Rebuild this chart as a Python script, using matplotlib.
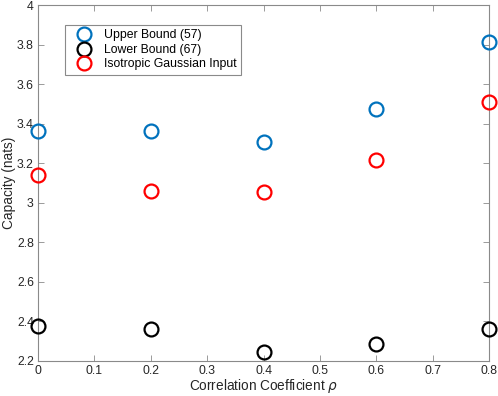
import matplotlib
matplotlib.use("Agg")
import matplotlib.pyplot as plt

plt.rcParams['font.family'] = ['Liberation Sans', 'DejaVu Sans']

rho = [0, 0.2, 0.4, 0.6, 0.8]
upper = [3.362, 3.362, 3.31, 3.477, 3.812]
lower = [2.376, 2.360, 2.248, 2.288, 2.360]
iso = [3.140, 3.060, 3.056, 3.216, 3.510]

fig = plt.figure(figsize=(4.98, 3.96), dpi=100)
ax = fig.add_axes([0.0763, 0.0884, 0.9057, 0.8986])

ms = 10
mew = 1.6
ax.plot(rho, upper, 'o', mfc='none', mec='#0072BD', ms=ms, mew=mew, label='Upper Bound (57)', clip_on=False, zorder=3)
ax.plot(rho, lower, 'o', mfc='none', mec='black', ms=ms, mew=mew, label='Lower Bound (67)', clip_on=False, zorder=3)
ax.plot(rho, iso, 'o', mfc='none', mec='#FF0000', ms=ms, mew=mew, label='Isotropic Gaussian Input', clip_on=False, zorder=3)

ax.set_xlim(0, 0.8)
ax.set_ylim(2.2, 4)
ax.set_xticks([0, 0.1, 0.2, 0.3, 0.4, 0.5, 0.6, 0.7, 0.8])
ax.set_xticklabels(['0', '0.1', '0.2', '0.3', '0.4', '0.5', '0.6', '0.7', '0.8'])
ax.set_yticks([2.2, 2.4, 2.6, 2.8, 3, 3.2, 3.4, 3.6, 3.8, 4])
ax.set_yticklabels(['2.2', '2.4', '2.6', '2.8', '3', '3.2', '3.4', '3.6', '3.8', '4'])

gray = '#262626'
for s in ax.spines.values():
    s.set_color('#8a8a8a')
    s.set_linewidth(0.8)
ax.tick_params(direction='in', top=True, right=True, length=4, width=0.6,
               color='#8a8a8a', labelcolor=gray, labelsize=8.8, pad=3)

ax.set_xlabel(r'Correlation Coefficient $\rho$', color=gray, fontsize=9.8, labelpad=0)
ax.set_ylabel('Capacity (nats)', color=gray, fontsize=9.8, labelpad=1)

leg = ax.legend(loc='upper left', bbox_to_anchor=(0.06, 0.944), borderaxespad=0,
                fontsize=8.8, frameon=True, fancybox=False, edgecolor='#8a8a8a', framealpha=1,
                borderpad=0.35, handletextpad=0.45, labelspacing=0.2, handlelength=2.4)
leg.get_frame().set_linewidth(0.8)
for t in leg.get_texts():
    t.set_color('black')

fig.savefig('out.png', dpi=100)
